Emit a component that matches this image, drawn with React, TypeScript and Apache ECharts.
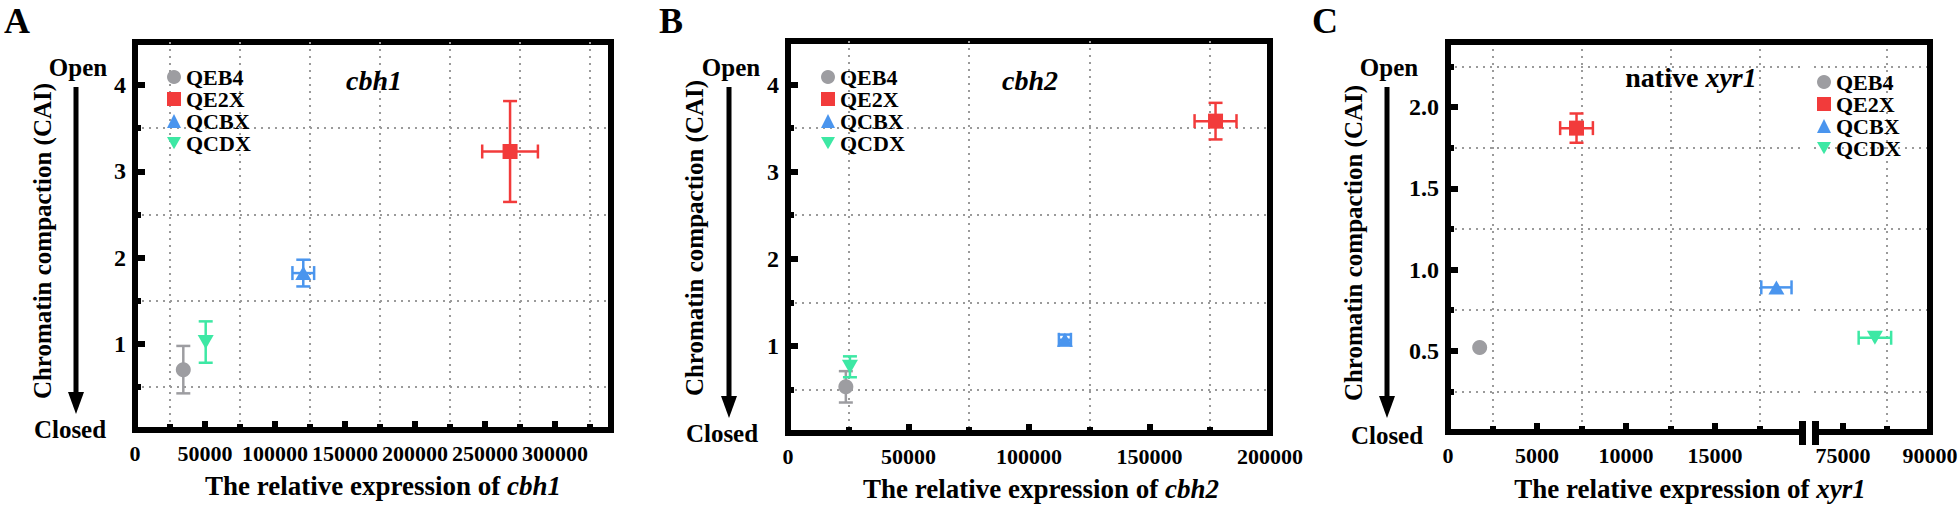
import React, { useEffect, useRef } from 'react';
import * as echarts from 'echarts';

// ---------- data ----------
const NAMES = ['QEB4', 'QE2X', 'QCBX', 'QCDX'];
const COLORS = ['#9D9DA1', '#F23B3B', '#4A95EE', '#3DE8A4'];
const SYMBOLS = ['circle', 'rect', 'triangle', 'triangle'];
const ROTATES = [0, 0, 0, 180];
const LEGEND_ICONS = ['circle', 'rect', 'triangle', 'path://M0,0L16,0L8,14Z'];

// Panel A (cbh1)
const A_X = [34500, 267900, 120200, 50500];
const A_X_ERR = [0, 19900, 7750, 0];
const A_Y = [0.7, 3.23, 1.82, 1.02];
const A_Y_ERR = [0.275, 0.585, 0.155, 0.24];

// Panel B (cbh2)
const B_X = [24000, 177400, 114900, 25700];
const B_X_ERR = [0, 8700, 2500, 0];
const B_Y = [0.53, 3.58, 1.07, 0.76];
const B_Y_ERR = [0.18, 0.21, 0.06, 0.12];

// Panel C (native xyr1), broken x axis
const C_X = [1780, 7220, 18450, 80500];
const C_X_ERR = [0, 920, 850, 2800];
const C_Y = [0.52, 1.87, 0.89, 0.58];
const C_Y_ERR = [0, 0.09, 0, 0];

// tick labels / positions
const A_X_LABELS = [0, 50000, 100000, 150000, 200000, 250000, 300000];
const A_X_MINOR = [25000, 75000, 125000, 175000, 225000, 275000, 325000];
const B_X_LABELS = [0, 50000, 100000, 150000, 200000];
const B_X_MINOR = [25000, 75000, 125000, 175000];
const AB_Y_LABELS = [1, 2, 3, 4];
const AB_Y_MINOR = [0.5, 1.5, 2.5, 3.5];
const C_X_LABELS_LEFT = [0, 5000, 10000, 15000];
const C_X_MINOR_LEFT = [2500, 7500, 12500, 17500];
const C_X_LABELS_RIGHT = [75000, 90000];
const C_X_MINOR_RIGHT = [82500];
const C_Y_LABELS = [0.5, 1.0, 1.5, 2.0];
const C_Y_MINOR = [0.25, 0.75, 1.25, 1.75, 2.25];

const A_RANGE_X = [0, 340000];
const B_RANGE_X = [0, 200000];
const C_RANGE_X_LEFT = [0, 20000];
const C_RANGE_X_RIGHT = [70000, 90000];
const AB_RANGE_Y = [0, 4.5];
const C_RANGE_Y = [0, 2.4];

// ---------- layout ----------
const FONT = "'Liberation Serif', 'Times New Roman', Times, serif";
const GA = { left: 135, top: 42, width: 476, height: 388 };
const GB = { left: 788, top: 41, width: 482, height: 392 };
const GC1 = { left: 1448, top: 42, width: 356, height: 390 };
const GC2 = { left: 1814, top: 42, width: 116, height: 390 };
const FRAME_W = 6;
const GRID_LINE = { color: '#9a9a9a', width: 2, type: [2, 5] as any };

function inner(vals: number[], r: number[]) {
  return vals.filter((v) => v > r[0] && v < r[1]);
}

function mainAxis(dim: 'x' | 'y', gridIndex: number, r: number[], labels: number[], fmt: (v: number) => string, showLabels = true) {
  return {
    type: 'value',
    gridIndex,
    min: r[0],
    max: r[1],
    position: dim === 'x' ? 'bottom' : 'left',
    axisLine: { show: false, onZero: false },
    axisTick: {
      show: showLabels,
      inside: true,
      length: dim === 'x' ? 9 : 10,
      customValues: inner(labels, r),
      lineStyle: { color: '#000', width: 6 },
    },
    axisLabel: {
      show: showLabels,
      customValues: labels,
      formatter: (v: number) => fmt(v),
      margin: dim === 'x' ? 12 : 9,
      color: '#000',
      fontFamily: FONT,
      fontWeight: 'bold',
      fontSize: dim === 'x' ? 22 : 24,
    },
    splitLine: { show: false },
  };
}

function minorAxis(dim: 'x' | 'y', gridIndex: number, r: number[], minor: number[], showTicks = true) {
  return {
    type: 'value',
    gridIndex,
    min: r[0],
    max: r[1],
    position: dim === 'x' ? 'bottom' : 'left',
    axisLine: { show: false, onZero: false },
    axisTick: {
      show: showTicks,
      inside: true,
      length: 6,
      customValues: minor,
      lineStyle: { color: '#000', width: 6 },
    },
    axisLabel: { show: false },
    splitLine: { show: true, lineStyle: GRID_LINE },
  };
}

function errRender(color: string) {
  return (params: any, api: any) => {
    const x = api.value(0);
    const y = api.value(1);
    const ex = api.value(2);
    const ey = api.value(3);
    const cap = 7;
    const st = { stroke: color, lineWidth: 2.5 };
    const children: any[] = [];
    if (ey > 0) {
      const t = api.coord([x, y + ey]);
      const b = api.coord([x, y - ey]);
      children.push({ type: 'line', shape: { x1: t[0], y1: t[1], x2: b[0], y2: b[1] }, style: st });
      children.push({ type: 'line', shape: { x1: t[0] - cap, y1: t[1], x2: t[0] + cap, y2: t[1] }, style: st });
      children.push({ type: 'line', shape: { x1: b[0] - cap, y1: b[1], x2: b[0] + cap, y2: b[1] }, style: st });
    }
    if (ex > 0) {
      const l = api.coord([x - ex, y]);
      const rr = api.coord([x + ex, y]);
      children.push({ type: 'line', shape: { x1: l[0], y1: l[1], x2: rr[0], y2: rr[1] }, style: st });
      children.push({ type: 'line', shape: { x1: l[0], y1: l[1] - cap, x2: l[0], y2: l[1] + cap }, style: st });
      children.push({ type: 'line', shape: { x1: rr[0], y1: rr[1] - cap, x2: rr[0], y2: rr[1] + cap }, style: st });
    }
    return { type: 'group', children };
  };
}

function panelSeries(xs: number[], xe: number[], ys: number[], ye: number[], axisFor: (x: number) => [number, number]) {
  const out: any[] = [];
  for (let i = 0; i < NAMES.length; i++) {
    const [xi, yi] = axisFor(xs[i]);
    out.push({
      type: 'custom',
      name: NAMES[i] + ' error',
      xAxisIndex: xi,
      yAxisIndex: yi,
      z: 2,
      renderItem: errRender(COLORS[i]),
      encode: { x: 0, y: 1 },
      data: [[xs[i], ys[i], xe[i], ye[i]]],
      silent: true,
    });
    out.push({
      type: 'scatter',
      name: NAMES[i],
      xAxisIndex: xi,
      yAxisIndex: yi,
      z: 3,
      symbol: SYMBOLS[i],
      symbolSize: SYMBOLS[i] === 'triangle' ? [16, 14] : 15,
      symbolRotate: ROTATES[i],
      itemStyle: { color: COLORS[i], opacity: 1 },
      data: [[xs[i], ys[i]]],
    });
  }
  return out;
}

function legend(left: number, top: number) {
  return {
    data: NAMES.map((n, i) => ({ name: n, icon: LEGEND_ICONS[i], itemStyle: { color: COLORS[i] } })),
    orient: 'vertical',
    left,
    top,
    padding: 0,
    itemGap: 0,
    itemWidth: 14,
    itemHeight: 14,
    selectedMode: false,
    textStyle: { fontFamily: FONT, fontWeight: 'bold', fontSize: 22, color: '#000' },
  };
}

function txt(x: number, y: number, text: string, size: number, extra: any = {}, va = 'middle') {
  return {
    type: 'text',
    x,
    y,
    z: 10,
    ...extra,
    style: { text, fill: '#000', font: `bold ${size}px ${FONT}`, align: 'center', verticalAlign: va },
  };
}

function richTxt(x: number, y: number, plain: string, ital: string, size: number) {
  return {
    type: 'text',
    x,
    y,
    z: 10,
    style: {
      text: plain ? `{a|${plain}}{b|${ital}}` : `{b|${ital}}`,
      align: 'center',
      verticalAlign: 'middle',
      rich: {
        a: { fontFamily: FONT, fontWeight: 'bold', fontSize: size, fill: '#000' },
        b: { fontFamily: FONT, fontWeight: 'bold', fontStyle: 'italic', fontSize: size, fill: '#000' },
      },
    },
  };
}

function arrow(x: number, y1: number, y2: number) {
  return [
    { type: 'line', z: 10, shape: { x1: x, y1, x2: x, y2: y2 - 18 }, style: { stroke: '#000', lineWidth: 5 } },
    { type: 'polygon', z: 10, shape: { points: [[x - 8, y2 - 22], [x + 8, y2 - 22], [x, y2]] }, style: { fill: '#000' } },
  ];
}

function frameGrid(g: any) {
  return { ...g, show: true, borderWidth: FRAME_W, borderColor: '#000', backgroundColor: 'transparent', containLabel: false, outerBoundsMode: 'none' };
}

export default function App() {
  const ref = useRef<HTMLDivElement>(null);
  useEffect(() => {
    if (!ref.current) return;
    const chart = echarts.init(ref.current, undefined, { renderer: 'svg' });
    const intFmt = (v: number) => String(v);
    const decFmt = (v: number) => v.toFixed(1);

    const cLeft = GC1.left;
    const cRight = GC2.left + GC2.width;
    const cTop = GC1.top;
    const cBot = GC1.top + GC1.height;
    const gapL = GC1.left + GC1.width;
    const gapR = GC2.left;

    const option: any = {
      animation: false,
      backgroundColor: '#fff',
      grid: [
        frameGrid(GA),
        frameGrid(GB),
        { ...GC1, show: false, containLabel: false, outerBoundsMode: 'none' },
        { ...GC2, show: false, containLabel: false, outerBoundsMode: 'none' },
      ],
      xAxis: [
        mainAxis('x', 0, A_RANGE_X, A_X_LABELS, intFmt),
        minorAxis('x', 0, A_RANGE_X, A_X_MINOR),
        mainAxis('x', 1, B_RANGE_X, B_X_LABELS, intFmt),
        minorAxis('x', 1, B_RANGE_X, B_X_MINOR),
        mainAxis('x', 2, C_RANGE_X_LEFT, C_X_LABELS_LEFT, intFmt),
        minorAxis('x', 2, C_RANGE_X_LEFT, C_X_MINOR_LEFT),
        mainAxis('x', 3, C_RANGE_X_RIGHT, C_X_LABELS_RIGHT, intFmt),
        minorAxis('x', 3, C_RANGE_X_RIGHT, C_X_MINOR_RIGHT),
      ],
      yAxis: [
        mainAxis('y', 0, AB_RANGE_Y, AB_Y_LABELS, intFmt),
        minorAxis('y', 0, AB_RANGE_Y, AB_Y_MINOR),
        mainAxis('y', 1, AB_RANGE_Y, AB_Y_LABELS, intFmt),
        minorAxis('y', 1, AB_RANGE_Y, AB_Y_MINOR),
        mainAxis('y', 2, C_RANGE_Y, C_Y_LABELS, decFmt),
        minorAxis('y', 2, C_RANGE_Y, C_Y_MINOR),
        mainAxis('y', 3, C_RANGE_Y, C_Y_LABELS, decFmt, false),
        minorAxis('y', 3, C_RANGE_Y, C_Y_MINOR, false),
      ],
      legend: [legend(167, 66), legend(821, 66), legend(1817, 71)],
      series: [
        ...panelSeries(A_X, A_X_ERR, A_Y, A_Y_ERR, () => [0, 0]),
        ...panelSeries(B_X, B_X_ERR, B_Y, B_Y_ERR, () => [2, 2]),
        ...panelSeries(C_X, C_X_ERR, C_Y, C_Y_ERR, (x) => (x > C_RANGE_X_LEFT[1] ? [6, 6] : [4, 4])),
      ],
      graphic: [
        // frame of panel C with broken bottom axis
        {
          type: 'rect',
          z: 5,
          shape: { x: cLeft, y: cTop, width: cRight - cLeft, height: cBot - cTop },
          style: { fill: 'none', stroke: '#000', lineWidth: FRAME_W },
        },
        { type: 'rect', z: 6, shape: { x: gapL + 2, y: cBot - 6, width: gapR - gapL - 4, height: 12 }, style: { fill: '#fff' } },
        { type: 'rect', z: 7, shape: { x: gapL - 5, y: cBot - 11, width: 7, height: 24 }, style: { fill: '#000' } },
        { type: 'rect', z: 7, shape: { x: gapR - 2, y: cBot - 11, width: 7, height: 24 }, style: { fill: '#000' } },
        // panel letters
        txt(17, 3, 'A', 36, {}, 'top'),
        txt(671, 3, 'B', 36, {}, 'top'),
        txt(1325, 3, 'C', 36, {}, 'top'),
        // Open / Closed arrows
        ...arrow(76, 87, 414),
        ...arrow(729, 87, 418),
        ...arrow(1387, 87, 418),
        txt(78, 67, 'Open', 25),
        txt(70, 429, 'Closed', 25),
        txt(731, 67, 'Open', 25),
        txt(722, 433, 'Closed', 25),
        txt(1389, 67, 'Open', 25),
        txt(1387, 435, 'Closed', 25),
        // y titles
        txt(42, 241, 'Chromatin compaction (CAI)', 25, { rotation: Math.PI / 2 }),
        txt(694, 238, 'Chromatin compaction (CAI)', 25, { rotation: Math.PI / 2 }),
        txt(1353, 243, 'Chromatin compaction (CAI)', 25, { rotation: Math.PI / 2 }),
        // x titles
        richTxt(383, 486, 'The relative expression of ', 'cbh1', 27),
        richTxt(1041, 489, 'The relative expression of ', 'cbh2', 27),
        richTxt(1690, 489, 'The relative expression of ', 'xyr1', 27),
        // gene labels
        richTxt(374, 80, '', 'cbh1', 28),
        richTxt(1030, 80, '', 'cbh2', 28),
        richTxt(1691, 77, 'native ', 'xyr1', 28),
      ],
    };
    chart.setOption(option);
    return () => chart.dispose();
  }, []);
  return <div ref={ref} style={{ position: 'absolute', left: 0, top: 0, width: 1960, height: 505, background: '#fff' }} />;
}
